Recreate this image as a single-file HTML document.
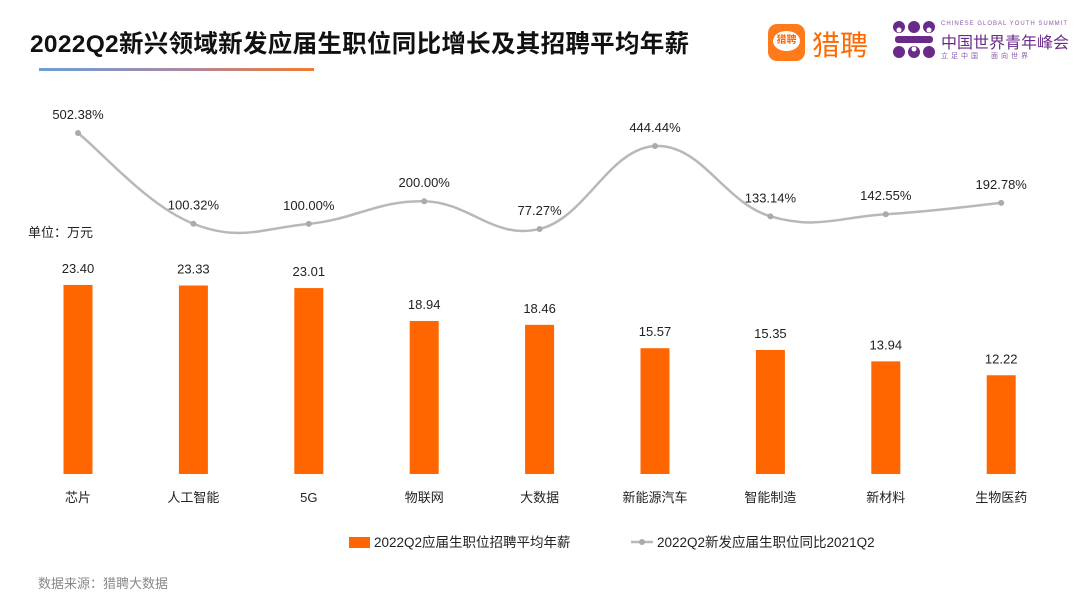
<!DOCTYPE html>
<html><head><meta charset="utf-8"><style>
body{margin:0;width:1080px;height:608px;background:#fff;font-family:"Liberation Sans","Noto Sans CJK SC",sans-serif;overflow:hidden;position:relative}
.t{position:absolute;white-space:nowrap}
</style></head><body>
<div class="t" style="left:30px;top:25px;font-size:24.5px;font-weight:bold;color:#111;letter-spacing:0.3px">2022Q2新兴领域新发应届生职位同比增长及其招聘平均年薪</div>
<div style="position:absolute;left:39px;top:68px;width:275px;height:3px;background:linear-gradient(90deg,#6a9fd8,#a88aa8,#f07a30)"></div>
<div style="position:absolute;left:768px;top:24px;width:37px;height:37px;border-radius:9px;background:#ff7a1a"><div style="position:absolute;left:5px;top:7px;width:27px;height:20px;border-radius:50%;background:#fff;color:#ff6a00;font-size:10px;font-weight:bold;text-align:center;line-height:20px">猎聘</div></div>
<div class="t" style="left:812px;top:24px;font-size:28px;color:#ff6a00">猎聘</div>
<svg style="position:absolute;left:892px;top:20px" width="44" height="40">
<g fill="#6a2a8a"><circle cx="7" cy="7" r="6"/><circle cx="22" cy="7" r="6"/><circle cx="37" cy="7" r="6"/><circle cx="7" cy="32" r="6"/><circle cx="22" cy="32" r="6"/><circle cx="37" cy="32" r="6"/>
<rect x="3" y="16" width="38" height="7" rx="3"/></g>
<g fill="#fff"><circle cx="7" cy="10" r="2.5"/><circle cx="37" cy="10" r="2.5"/><circle cx="22" cy="29" r="2.5"/></g>
</svg>
<div class="t" style="left:941px;top:21px;font-size:6px;color:#8a5aaa;letter-spacing:1px">CHINESE GLOBAL YOUTH SUMMIT</div>
<div class="t" style="left:941px;top:29px;font-size:16px;color:#6a2a8a">中国世界青年峰会</div>
<div class="t" style="left:941px;top:51px;font-size:7px;color:#8a5aaa;letter-spacing:3px">立足中国　面向世界</div>
<div class="t" style="left:28px;top:222px;font-size:13px;color:#222">单位：万元</div>
<div class="t" style="left:38px;top:573px;font-size:13px;color:#888">数据来源：猎聘大数据</div>
<svg id="c" width="1080" height="608" style="position:absolute;left:0;top:0"></svg>
<script>
const categories=["芯片","人工智能","5G","物联网","大数据","新能源汽车","智能制造","新材料","生物医药"];
const salaries=[23.40,23.33,23.01,18.94,18.46,15.57,15.35,13.94,12.22];
const growth=[502.38,100.32,100.00,200.00,77.27,444.44,133.14,142.55,192.78];
const growthLabels=["502.38%","100.32%","100.00%","200.00%","77.27%","444.44%","133.14%","142.55%","192.78%"];
const svg=document.getElementById('c');const NS='http://www.w3.org/2000/svg';
function mk(t,a,p){const e=document.createElementNS(NS,t);for(const k in a)e.setAttribute(k,a[k]);(p||svg).appendChild(e);return e;}
const xC=i=>78+i*115.4;
const yB=v=>474-v*8.08;
const yL=v=>246.4-v*0.2258;
categories.forEach((c,i)=>{
 const r=mk('rect',{x:xC(i)-14.5,y:yB(salaries[i]),width:29,height:474-yB(salaries[i]),fill:'#ff6600'});
 
 
 const t=mk('text',{x:xC(i),y:yB(salaries[i])-12,'text-anchor':'middle','font-size':13,fill:'#222'});t.textContent=salaries[i].toFixed(2);
 
 
 const l=mk('text',{x:xC(i),y:502,'text-anchor':'middle','font-size':13,fill:'#222'});l.textContent=c;
 
 
});
const pts=growth.map((v,i)=>[xC(i),yL(v)]);
let d='M'+pts[0][0]+','+pts[0][1];
for(let i=0;i<pts.length-1;i++){const p0=pts[Math.max(i-1,0)],p1=pts[i],p2=pts[i+1],p3=pts[Math.min(i+2,pts.length-1)];const k=0.2;
 d+=` C${p1[0]+(p2[0]-p0[0])*k},${p1[1]+(p2[1]-p0[1])*k} ${p2[0]-(p3[0]-p1[0])*k},${p2[1]-(p3[1]-p1[1])*k} ${p2[0]},${p2[1]}`;}
const ln=mk('path',{d:d,fill:'none',stroke:'#b8b8b8','stroke-width':2.5});


pts.forEach((p,i)=>{
 const c=mk('circle',{cx:p[0],cy:p[1],r:3,fill:'#aaa'});
 
 
 const t=mk('text',{x:p[0],y:p[1]-14,'text-anchor':'middle','font-size':13,fill:'#222'});t.textContent=growthLabels[i];
 
 
});
const g=mk('g',{});
mk('rect',{x:349,y:537,width:21,height:11,fill:'#ff6600'},g);
const lt=mk('text',{x:374,y:547,'font-size':13.5,fill:'#222'},g);lt.textContent='2022Q2应届生职位招聘平均年薪';
mk('line',{x1:631,y1:542,x2:653,y2:542,stroke:'#b8b8b8','stroke-width':2.5},g);
mk('circle',{cx:642,cy:542,r:3,fill:'#aaa'},g);
const lt2=mk('text',{x:657,y:547,'font-size':13.5,fill:'#222'},g);lt2.textContent='2022Q2新发应届生职位同比2021Q2';
</script>
</body></html>
